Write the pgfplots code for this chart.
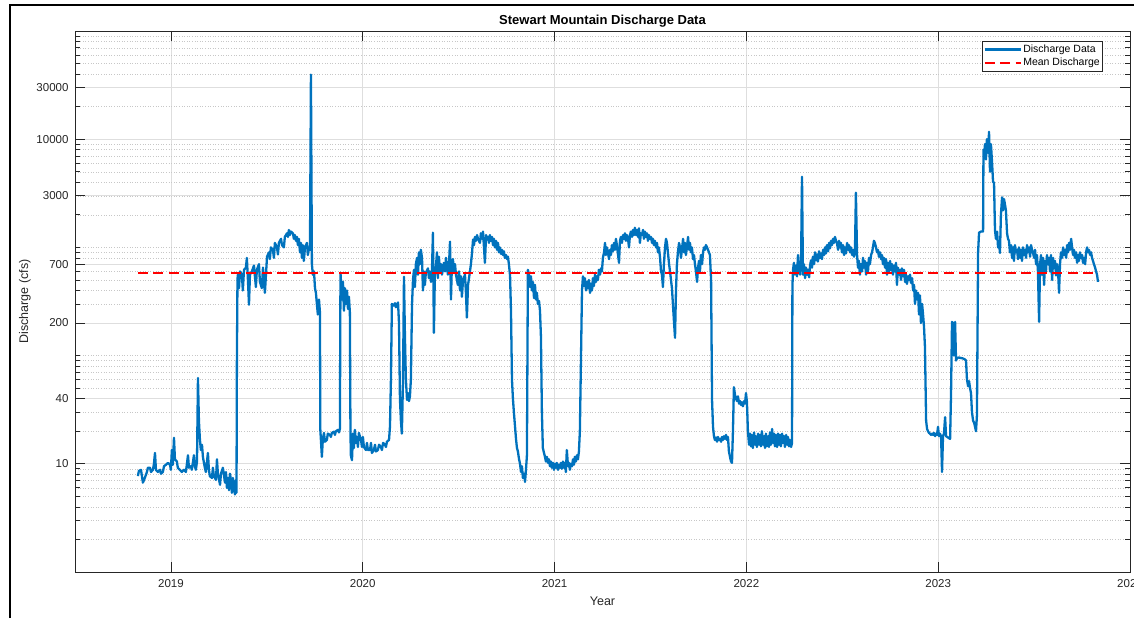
\documentclass[border=0pt]{standalone}
\usepackage{pgfplots}
\pgfplotsset{compat=1.18}
\usepackage{fontspec}
\setmainfont{Liberation Sans}
\definecolor{mblue}{RGB}{0,114,189}
\definecolor{axgray}{RGB}{38,38,38}

\begin{document}
\begin{tikzpicture}
\path[use as bounding box] (0pt,0pt) rectangle (1134pt,618pt);
\draw[line width=2pt] (10pt,0pt) -- (10pt,613pt) -- (1134pt,613pt);
\begin{axis}[
    at={(75pt,46pt)}, anchor=south west,
    scale only axis, width=1055pt, height=541pt,
    xmin=2018.5, xmax=2024,
    ymode=log, ymin=1, ymax=100000,
    xtick={2019,2020,2021,2022,2023,2024},
    xticklabels={2019,2020,2021,2022,2023,2024},
    minor x tick num=0,
    ytick={10,40,200,700,3000,10000,30000},
    yticklabels={10,40,200,700,3000,10000,30000},
    minor ytick={2,3,4,5,6,7,8,9,20,30,40,50,60,70,80,90,100,200,300,400,500,600,700,800,900,1000,2000,3000,4000,5000,6000,7000,8000,9000,20000,30000,40000,50000,60000,70000,80000,90000},
    xmajorgrids, ymajorgrids, yminorgrids,
    major grid style={black!13, line width=0.7pt},
    minor grid style={black!22, line width=0.5pt, dash pattern=on 1pt off 1.6pt},
    tick align=inside,
    major tick length=10pt, minor tick length=5pt,
    every tick/.style={axgray, line width=0.7pt},
    axis line style={axgray, line width=0.8pt},
    /pgf/number format/assume math mode=true,
    ticklabel style={font=\fontsize{11.5}{13}\selectfont, text=axgray},
    xticklabel style={yshift=-4pt},
    yticklabel style={xshift=-3pt},
    title={Stewart Mountain Discharge Data},
    title style={at={(axis description cs:0.5,1)}, anchor=base, yshift=0.3pt, font=\bfseries\fontsize{13}{15}\selectfont},
    xlabel={Year},
    ylabel={Discharge (cfs)},
    every axis x label/.style={at={(axis description cs:0.5,0)}, anchor=base, yshift=-33.5pt, font=\fontsize{12.5}{14}\selectfont, text=axgray},
    every axis y label/.style={at={(axis description cs:-0.0474,0.5)}, anchor=center, rotate=90, font=\fontsize{12.5}{14}\selectfont, text=axgray},
    legend cell align=left,
    legend image code/.code={\draw[#1] (0pt,0pt) -- (36pt,0pt);},
    legend style={at={(axis description cs:1,1)}, anchor=north east, xshift=-27pt, yshift=-10pt,
        draw=axgray, line width=0.6pt, font=\fontsize{10.5}{12}\selectfont,
        inner xsep=1.5pt, inner ysep=2.3pt, row sep=1pt, column sep=0pt,
        nodes={inner sep=1.5pt}},
]
\addplot[mblue, line width=2.3pt, line join=round] coordinates {
(2018.828,7.7) (2018.833,8.6) (2018.844,8.8) (2018.854,6.7) (2018.864,7.4) (2018.875,8.4) (2018.880,9.2) (2018.891,9.2)
(2018.896,8.4) (2018.906,8.8) (2018.911,9.8) (2018.917,12.6) (2018.922,8.8) (2018.932,8.4) (2018.943,8.8) (2018.948,8.1)
(2018.958,8.4) (2018.964,9.5) (2018.974,9.8) (2018.985,10.2) (2018.995,9.8) (2019.000,8.8) (2019.005,13.4) (2019.010,9.8)
(2019.016,17.4) (2019.021,11.0) (2019.031,10.5) (2019.036,9.2) (2019.047,8.8) (2019.057,8.4) (2019.068,8.8) (2019.078,8.4)
(2019.083,9.8) (2019.089,12.0) (2019.094,9.2) (2019.104,9.5) (2019.109,8.8) (2019.120,12.0) (2019.125,9.5) (2019.130,8.8)
(2019.136,10.5) (2019.141,62) (2019.146,25) (2019.151,17) (2019.156,13.4) (2019.162,15) (2019.167,11.5) (2019.177,9.2)
(2019.182,8.4) (2019.193,12.6) (2019.198,8.8) (2019.203,7.7) (2019.214,7.4) (2019.219,9.2) (2019.224,7.7) (2019.235,7.1)
(2019.240,11.0) (2019.245,8.1) (2019.256,6.4) (2019.261,8.1) (2019.271,9.2) (2019.282,6.7) (2019.287,8.4) (2019.292,6.0)
(2019.297,7.4) (2019.303,5.7) (2019.308,8.1) (2019.313,7.1) (2019.318,5.4) (2019.323,7.4) (2019.334,5.2) (2019.339,7.1)
(2019.342,5.4) (2019.344,90) (2019.347,500)
(2019.349,560) (2019.355,420) (2019.360,600) (2019.370,560) (2019.375,400) (2019.381,620) (2019.391,650) (2019.396,800)
(2019.402,480) (2019.407,295) (2019.412,560) (2019.422,600) (2019.433,680) (2019.443,430) (2019.448,620) (2019.459,700)
(2019.464,480) (2019.474,420) (2019.480,650) (2019.490,380) (2019.501,820) (2019.511,900) (2019.516,780) (2019.521,1000)
(2019.532,950) (2019.537,800) (2019.542,1100) (2019.553,1000) (2019.558,860) (2019.563,1100) (2019.574,1200) (2019.579,1050)
(2019.589,1000) (2019.594,1250) (2019.605,1350) (2019.610,1250) (2019.615,1450) (2019.620,1300) (2019.626,1400) (2019.636,1350)
(2019.641,1200) (2019.646,1300) (2019.652,1150) (2019.657,1250) (2019.662,1050) (2019.667,1200) (2019.673,900) (2019.678,1100)
(2019.683,800) (2019.688,1050) (2019.693,750) (2019.699,1000) (2019.709,1100) (2019.714,850) (2019.720,1000) (2019.725,950)
(2019.730,39500) (2019.735,700) (2019.740,560) (2019.746,600) (2019.751,420) (2019.756,380) (2019.761,300) (2019.766,240)
(2019.772,330) (2019.777,250) (2019.779,20.6)
(2019.787,11.6) (2019.792,17) (2019.798,19.3) (2019.803,16) (2019.813,16.6) (2019.818,19) (2019.829,18.5) (2019.834,17.7)
(2019.839,19.3) (2019.850,19.8) (2019.855,18.5) (2019.860,20) (2019.871,20.6) (2019.876,19.5) (2019.881,21) (2019.884,583)
(2019.892,330) (2019.897,480) (2019.902,260) (2019.907,420) (2019.912,300) (2019.918,400) (2019.923,270) (2019.928,350)
(2019.933,250) (2019.936,20)
(2019.938,12) (2019.944,10.8) (2019.949,19) (2019.954,14) (2019.959,20.6) (2019.965,15.6) (2019.970,17.7) (2019.975,14.3)
(2019.980,19.3) (2019.991,16.6) (2019.996,14.3) (2020.001,17.7) (2020.006,14.3) (2020.017,13.4) (2020.022,15.6) (2020.027,13.4)
(2020.038,13.4) (2020.043,15.6) (2020.048,12.6) (2020.058,13.4) (2020.064,15) (2020.069,13) (2020.079,13.4) (2020.085,15)
(2020.095,14.3) (2020.100,13.4) (2020.106,15.6) (2020.116,15) (2020.121,14.3) (2020.126,16) (2020.137,16.6) (2020.142,22)
(2020.147,60) (2020.152,300) (2020.163,290) (2020.168,305) (2020.173,280) (2020.184,310) (2020.189,200) (2020.194,40)
(2020.199,25) (2020.204,19) (2020.210,60) (2020.215,535) (2020.220,150) (2020.225,60) (2020.231,39) (2020.236,45)
(2020.241,38) (2020.246,42) (2020.251,60) (2020.257,300) (2020.262,500) (2020.267,620) (2020.272,430) (2020.277,700)
(2020.283,800) (2020.288,560) (2020.293,900) (2020.298,700) (2020.303,950) (2020.309,800) (2020.314,400) (2020.319,600)
(2020.324,450) (2020.329,580) (2020.340,640) (2020.345,520) (2020.350,600) (2020.356,480) (2020.361,620) (2020.366,1370)
(2020.371,162) (2020.376,560) (2020.382,680) (2020.387,900) (2020.392,520) (2020.397,820) (2020.403,600) (2020.408,700)
(2020.413,560) (2020.423,720) (2020.429,600) (2020.434,800) (2020.444,560) (2020.449,650) (2020.455,1130) (2020.460,330)
(2020.465,720) (2020.470,780) (2020.476,600) (2020.481,700) (2020.486,560) (2020.496,450) (2020.502,600) (2020.507,400)
(2020.512,540) (2020.517,350) (2020.523,500) (2020.533,560) (2020.538,380) (2020.543,225) (2020.549,450) (2020.559,600)
(2020.564,700) (2020.570,900) (2020.575,1180) (2020.580,1050) (2020.585,1250) (2020.590,1150) (2020.596,1300) (2020.601,1200)
(2020.611,1100) (2020.616,1350) (2020.622,1200) (2020.627,1400) (2020.637,720) (2020.643,1300) (2020.648,1200) (2020.653,1250)
(2020.658,1100) (2020.663,1300) (2020.668,1150) (2020.674,1250) (2020.679,1050) (2020.684,1200) (2020.689,1000) (2020.695,1150)
(2020.700,950) (2020.705,1100) (2020.710,900) (2020.715,1000) (2020.721,870) (2020.726,950) (2020.731,850) (2020.736,920)
(2020.741,800) (2020.747,850) (2020.752,780) (2020.757,820) (2020.762,700) (2020.768,550) (2020.773,250) (2020.778,60)
(2020.783,40) (2020.788,30) (2020.794,22) (2020.799,17) (2020.804,14) (2020.809,13) (2020.815,11) (2020.820,10)
(2020.825,8.4) (2020.830,9.5) (2020.835,7.4) (2020.841,8.1) (2020.846,6.8) (2020.851,8.8) (2020.856,12) (2020.861,620)
(2020.867,560) (2020.872,430) (2020.877,540) (2020.882,400) (2020.887,480) (2020.893,340) (2020.898,450) (2020.903,330)
(2020.908,380) (2020.913,300) (2020.919,320) (2020.924,260) (2020.929,150) (2020.934,30) (2020.939,14) (2020.945,12.6)
(2020.950,11.6) (2020.955,10.5) (2020.960,11.6) (2020.966,10.2) (2020.971,11) (2020.976,9.5) (2020.981,10.5) (2020.986,9.2)
(2020.992,10.2) (2020.997,8.8) (2021.002,10) (2021.007,9.2) (2021.012,10.2) (2021.018,8.8) (2021.023,9.8) (2021.028,9.2)
(2021.033,10.2) (2021.038,9) (2021.044,10.5) (2021.049,9.2) (2021.054,10.2) (2021.059,8.4) (2021.064,13.4) (2021.070,9.5)
(2021.075,10.2) (2021.080,8.8) (2021.085,10) (2021.091,9.5) (2021.096,11) (2021.101,9.8) (2021.106,11.6) (2021.111,10.5)
(2021.117,12) (2021.122,11) (2021.127,13) (2021.132,20) (2021.138,100) (2021.143,400) (2021.148,540) (2021.153,440)
(2021.158,520) (2021.164,400) (2021.169,480) (2021.174,420) (2021.179,500) (2021.185,380) (2021.190,460) (2021.195,400)
(2021.200,520) (2021.205,440) (2021.211,560) (2021.216,480) (2021.221,540) (2021.226,500) (2021.231,620) (2021.237,560)
(2021.242,640) (2021.247,600) (2021.252,800) (2021.258,900) (2021.263,1100) (2021.268,850) (2021.273,1000) (2021.278,900)
(2021.284,780) (2021.289,950) (2021.294,850) (2021.299,1050) (2021.304,920) (2021.310,1100) (2021.315,950) (2021.320,1200)
(2021.325,1050) (2021.336,720) (2021.341,1150) (2021.346,1250) (2021.351,1100) (2021.357,1300) (2021.362,1200) (2021.367,1350)
(2021.372,1150) (2021.377,1300) (2021.383,1200) (2021.388,1000) (2021.393,1300) (2021.398,1400) (2021.404,1250) (2021.409,1450)
(2021.414,1300) (2021.419,1520) (2021.424,1300) (2021.430,1450) (2021.435,1250) (2021.440,1500) (2021.445,1100) (2021.450,1350)
(2021.456,1300) (2021.461,1450) (2021.466,1200) (2021.471,1400) (2021.477,1250) (2021.482,1350) (2021.487,1150) (2021.492,1300)
(2021.497,1200) (2021.503,1250) (2021.508,1100) (2021.513,1200) (2021.518,1050) (2021.523,1150) (2021.529,1000) (2021.534,1100)
(2021.539,900) (2021.544,1000) (2021.550,800) (2021.555,600) (2021.560,560) (2021.565,430) (2021.570,700) (2021.576,1000)
(2021.581,1200) (2021.586,1100) (2021.591,900) (2021.597,700) (2021.602,600) (2021.607,500) (2021.612,420) (2021.617,300)
(2021.623,200) (2021.628,146) (2021.633,400) (2021.638,700) (2021.643,900) (2021.649,1100) (2021.654,1000) (2021.659,800)
(2021.664,950) (2021.670,1200) (2021.675,900) (2021.680,1100) (2021.685,850) (2021.690,1000) (2021.696,1250) (2021.701,950)
(2021.706,1100) (2021.711,900) (2021.716,1000) (2021.722,780) (2021.727,850) (2021.732,700) (2021.737,600) (2021.743,480)
(2021.748,650) (2021.753,750) (2021.758,600) (2021.763,850) (2021.769,700) (2021.774,900) (2021.779,1000) (2021.784,950)
(2021.789,1050) (2021.795,1000) (2021.800,950) (2021.805,900) (2021.810,850) (2021.816,500) (2021.821,39) (2021.826,22)
(2021.831,18) (2021.836,16.6) (2021.842,17.5) (2021.847,16) (2021.852,17.7) (2021.857,16.6) (2021.862,17) (2021.868,16)
(2021.873,17.7) (2021.878,16.6) (2021.883,18) (2021.889,17) (2021.894,18.5) (2021.899,16.6) (2021.904,17.7) (2021.909,13)
(2021.915,11.5) (2021.920,10.5) (2021.925,10.2) (2021.930,20) (2021.935,51) (2021.941,43) (2021.946,40) (2021.951,38)
(2021.956,42) (2021.962,36) (2021.967,38) (2021.972,35) (2021.977,37) (2021.982,34) (2021.988,38) (2021.993,36)
(2021.998,45) (2022.003,37) (2022.008,20) (2022.014,15) (2022.019,19) (2022.024,14.5) (2022.029,18.5) (2022.034,14)
(2022.040,19.5) (2022.045,15) (2022.050,18) (2022.055,14.3) (2022.061,19) (2022.066,15) (2022.071,18.5) (2022.076,14.5)
(2022.081,20) (2022.087,15) (2022.092,18) (2022.097,14) (2022.102,19) (2022.107,14.5) (2022.113,18) (2022.118,14.3)
(2022.123,19.5) (2022.128,15) (2022.134,21) (2022.139,15.6) (2022.144,19) (2022.149,14.5) (2022.154,18.5) (2022.160,14.3)
(2022.165,19) (2022.170,15) (2022.175,18.5) (2022.180,14.5) (2022.186,19) (2022.191,15.6) (2022.196,18) (2022.201,14.3)
(2022.207,18.5) (2022.212,15) (2022.217,17.7) (2022.222,14.5) (2022.227,16.6) (2022.233,14.3) (2022.238,15.6) (2022.240,430)
(2022.243,620) (2022.248,720) (2022.253,560) (2022.259,680) (2022.264,540) (2022.269,850) (2022.274,620) (2022.280,560)
(2022.285,720) (2022.290,4500) (2022.295,560) (2022.300,700) (2022.306,520) (2022.311,650) (2022.316,560) (2022.321,620)
(2022.327,530) (2022.332,680) (2022.337,760) (2022.342,650) (2022.347,820) (2022.353,700) (2022.358,900) (2022.363,760)
(2022.368,860) (2022.373,740) (2022.379,920) (2022.384,800) (2022.389,880) (2022.394,780) (2022.400,950) (2022.405,850)
(2022.410,1000) (2022.415,880) (2022.420,1050) (2022.426,920) (2022.431,1100) (2022.436,980) (2022.441,1150) (2022.446,1050)
(2022.452,1200) (2022.457,1100) (2022.462,1250) (2022.467,1150) (2022.472,1100) (2022.478,950) (2022.483,1150) (2022.488,1000)
(2022.493,1100) (2022.498,900) (2022.504,1050) (2022.509,850) (2022.514,1000) (2022.519,880) (2022.525,1100) (2022.530,950)
(2022.535,1050) (2022.540,900) (2022.545,1000) (2022.551,850) (2022.556,950) (2022.561,820) (2022.566,900) (2022.571,3200)
(2022.577,850) (2022.582,650) (2022.587,750) (2022.592,560) (2022.597,700) (2022.603,600) (2022.608,800) (2022.613,650)
(2022.618,750) (2022.624,560) (2022.629,720) (2022.634,600) (2022.639,800) (2022.644,700) (2022.650,850) (2022.655,900)
(2022.660,1000) (2022.665,1150) (2022.670,1100) (2022.676,1000) (2022.681,900) (2022.686,950) (2022.691,820) (2022.697,900)
(2022.702,780) (2022.707,850) (2022.712,700) (2022.717,800) (2022.723,650) (2022.728,780) (2022.733,560) (2022.738,720)
(2022.744,600) (2022.749,750) (2022.754,620) (2022.759,700) (2022.764,560) (2022.770,680) (2022.775,600) (2022.780,720)
(2022.785,450) (2022.790,650) (2022.796,560) (2022.801,620) (2022.806,500) (2022.811,640) (2022.817,540) (2022.822,620)
(2022.827,480) (2022.832,560) (2022.837,460) (2022.843,540) (2022.848,500) (2022.853,560) (2022.858,470) (2022.864,520)
(2022.869,400) (2022.874,450) (2022.879,300) (2022.884,400) (2022.890,330) (2022.895,380) (2022.900,240) (2022.905,360)
(2022.910,200) (2022.916,300) (2022.921,240) (2022.926,185) (2022.931,120) (2022.937,25) (2022.942,21) (2022.947,20)
(2022.952,19.3) (2022.957,19) (2022.963,18.5) (2022.968,19) (2022.973,18.5) (2022.978,19.3) (2022.984,18) (2022.989,19)
(2022.994,18.5) (2022.999,22) (2023.004,18) (2023.009,19) (2023.015,18) (2023.020,8.4) (2023.025,18) (2023.030,19)
(2023.036,27) (2023.041,18) (2023.051,17.5) (2023.062,17) (2023.067,45) (2023.072,205) (2023.077,200) (2023.082,100)
(2023.088,205) (2023.093,90) (2023.098,95) (2023.108,96) (2023.119,95) (2023.130,94) (2023.140,92) (2023.145,90)
(2023.150,60) (2023.156,52) (2023.161,58) (2023.166,50) (2023.171,45) (2023.176,30) (2023.182,25) (2023.187,24)
(2023.192,22) (2023.197,20) (2023.202,28) (2023.208,900) (2023.213,1370) (2023.223,1400) (2023.234,1400) (2023.236,8000)
(2023.239,7000) (2023.244,9000) (2023.249,6500) (2023.254,10000) (2023.260,7500) (2023.265,11700) (2023.270,5000) (2023.275,9000)
(2023.281,6000) (2023.286,4000) (2023.291,4000) (2023.296,1450) (2023.301,1200) (2023.307,1400) (2023.312,1000) (2023.317,1100)
(2023.322,890) (2023.327,2000) (2023.333,2900) (2023.338,2200) (2023.343,2800) (2023.348,2500) (2023.353,2200) (2023.359,1350)
(2023.364,1200) (2023.369,1150) (2023.374,900) (2023.380,1050) (2023.385,800) (2023.390,1000) (2023.395,750) (2023.400,1050)
(2023.406,900) (2023.411,950) (2023.416,780) (2023.421,1000) (2023.427,800) (2023.432,950) (2023.437,750) (2023.442,1000)
(2023.447,850) (2023.453,950) (2023.458,800) (2023.463,1050) (2023.468,900) (2023.474,1000) (2023.479,820) (2023.484,1050)
(2023.489,950) (2023.494,900) (2023.500,800) (2023.505,950) (2023.510,700) (2023.515,850) (2023.520,600) (2023.526,205)
(2023.531,700) (2023.536,850) (2023.541,560) (2023.547,800) (2023.552,450) (2023.557,750) (2023.562,600) (2023.567,850)
(2023.573,700) (2023.578,800) (2023.583,600) (2023.588,850) (2023.594,500) (2023.599,800) (2023.604,650) (2023.609,750)
(2023.614,550) (2023.620,700) (2023.625,600) (2023.630,380) (2023.635,700) (2023.640,900) (2023.646,800) (2023.651,1000)
(2023.656,850) (2023.661,950) (2023.667,800) (2023.672,1050) (2023.677,900) (2023.682,1100) (2023.687,950) (2023.693,1200)
(2023.698,1000) (2023.703,850) (2023.708,950) (2023.713,800) (2023.719,900) (2023.724,720) (2023.729,850) (2023.734,750)
(2023.739,900) (2023.745,800) (2023.750,850) (2023.755,720) (2023.760,800) (2023.766,700) (2023.771,900) (2023.776,1000)
(2023.781,900) (2023.786,950) (2023.792,850) (2023.797,900) (2023.802,800) (2023.807,750) (2023.812,700) (2023.818,650)
(2023.823,600) (2023.828,560) (2023.833,480)
};
\addlegendentry{Discharge Data}
\addplot[red, line width=2pt, dash pattern=on 10pt off 5.5pt] coordinates {(2018.828,585) (2023.833,585)};
\addlegendentry{Mean Discharge}
\end{axis}
\end{tikzpicture}
\end{document}
